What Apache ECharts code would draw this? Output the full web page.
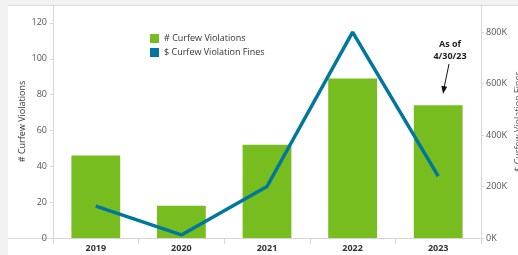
<!DOCTYPE html>
<html>
<head>
<meta charset="utf-8">
<script src="https://cdn.jsdelivr.net/npm/echarts@6/dist/echarts.min.js"></script>
<style>
html,body{margin:0;padding:0;background:#f2f2f2;}
#c{width:518px;height:255px;}
</style>
</head>
<body>
<div id="c"></div>
<script>
var categories = ['2019', '2020', '2021', '2022', '2023'];
var violations = [46, 18, 52, 89, 74];
var fines = [124000, 12000, 200000, 800000, 240000];
var leftTicks = [0, 20, 40, 60, 80, 100, 120];
var rightTicks = [0, 200000, 400000, 600000, 800000];
var barName = '# Curfew Violations';
var lineName = '$ Curfew Violation Fines';
var noteText = 'As of\n4/30/23';

var FONT = '"Open Sans", "DejaVu Sans", sans-serif';
var chart = echarts.init(document.getElementById('c'), null, {renderer: 'canvas'});
chart.setOption({
  backgroundColor: '#f2f2f2',
  animation: false,
  textStyle: {fontFamily: FONT},
  graphic: [
    {type: 'rect', z: -100, silent: true, shape: {x: 8, y: 5, width: 510, height: 250}, style: {fill: '#ffffff'}},
    {type: 'line', z: -90, silent: true, shape: {x1: 8, y1: 5.5, x2: 518, y2: 5.5}, style: {stroke: '#dddddd', lineWidth: 1}},
    {type: 'line', z: -90, silent: true, shape: {x1: 8, y1: 238.5, x2: 53, y2: 238.5}, style: {stroke: '#dddddd', lineWidth: 1}},
    {type: 'text', z: 100, silent: true, x: 450, y: 38, style: {text: noteText, fontFamily: FONT, fontSize: 9, fontWeight: 'bold', fill: '#222', align: 'center', lineHeight: 12}},
    {type: 'line', z: 100, silent: true, shape: {x1: 449, y1: 64, x2: 444, y2: 88}, style: {stroke: '#111', lineWidth: 1}},
    {type: 'polygon', z: 100, silent: true, shape: {points: [[443, 94], [447.2, 86.8], [441.4, 85.8]]}, style: {fill: '#111'}}
  ],
  legend: {
    orient: 'vertical',
    left: 145,
    top: 29,
    itemWidth: 9,
    itemHeight: 9,
    itemGap: 5,
    icon: 'rect',
    textStyle: {fontSize: 9, color: '#333', fontFamily: FONT},
    data: [{name: barName, icon: 'rect'}, {name: lineName, icon: 'rect'}]
  },
  grid: {left: 53, right: 37, top: 5, bottom: 17, containLabel: false, outerBoundsMode: 'none'},
  xAxis: {
    type: 'category',
    data: categories,
    axisLine: {show: true, lineStyle: {color: '#cccccc', width: 1, type: 'dotted'}},
    axisTick: {show: true, alignWithLabel: false, length: 6, lineStyle: {color: '#d6d6d6'}},
    axisLabel: {fontSize: 9, fontWeight: 'bold', color: '#333', margin: 6, fontFamily: FONT}
  },
  yAxis: [
    {
      type: 'value', min: 0, max: 130, interval: 20,
      name: barName, nameLocation: 'middle', nameGap: 26, nameRotate: 90, nameMoveOverlap: false,
      nameTextStyle: {fontSize: 9, color: '#333', fontFamily: FONT},
      axisLine: {show: true, lineStyle: {color: '#d6d6d6'}},
      axisTick: {show: true, length: 3, lineStyle: {color: '#d6d6d6'}},
      axisLabel: {fontSize: 9, color: '#555', margin: 6, fontFamily: FONT,
        formatter: function (v) { return leftTicks.indexOf(v) >= 0 ? String(v) : ''; }},
      splitLine: {show: false}
    },
    {
      type: 'value', min: 0, max: 905000, interval: 200000, position: 'right',
      name: lineName, nameLocation: 'middle', nameGap: 33, nameRotate: 90, nameMoveOverlap: false,
      nameTextStyle: {fontSize: 9, color: '#555', fontFamily: FONT},
      axisLine: {show: true, lineStyle: {color: '#d6d6d6'}},
      axisTick: {show: true, length: 3, lineStyle: {color: '#d6d6d6'}},
      axisLabel: {fontSize: 9, color: '#555', margin: 5, fontFamily: FONT,
        formatter: function (v) { return rightTicks.indexOf(v) >= 0 ? (v / 1000) + 'K' : ''; }},
      splitLine: {show: false}
    }
  ],
  series: [
    {
      name: barName, type: 'bar', yAxisIndex: 0, data: violations,
      barWidth: '57%', itemStyle: {color: '#78bd20'}, z: 2
    },
    {
      name: lineName, type: 'line', yAxisIndex: 1, data: fines,
      symbol: 'none', lineStyle: {color: '#00779e', width: 3.5}, itemStyle: {color: '#00779e'}, z: 3
    }
  ]
});
</script>
</body>
</html>
